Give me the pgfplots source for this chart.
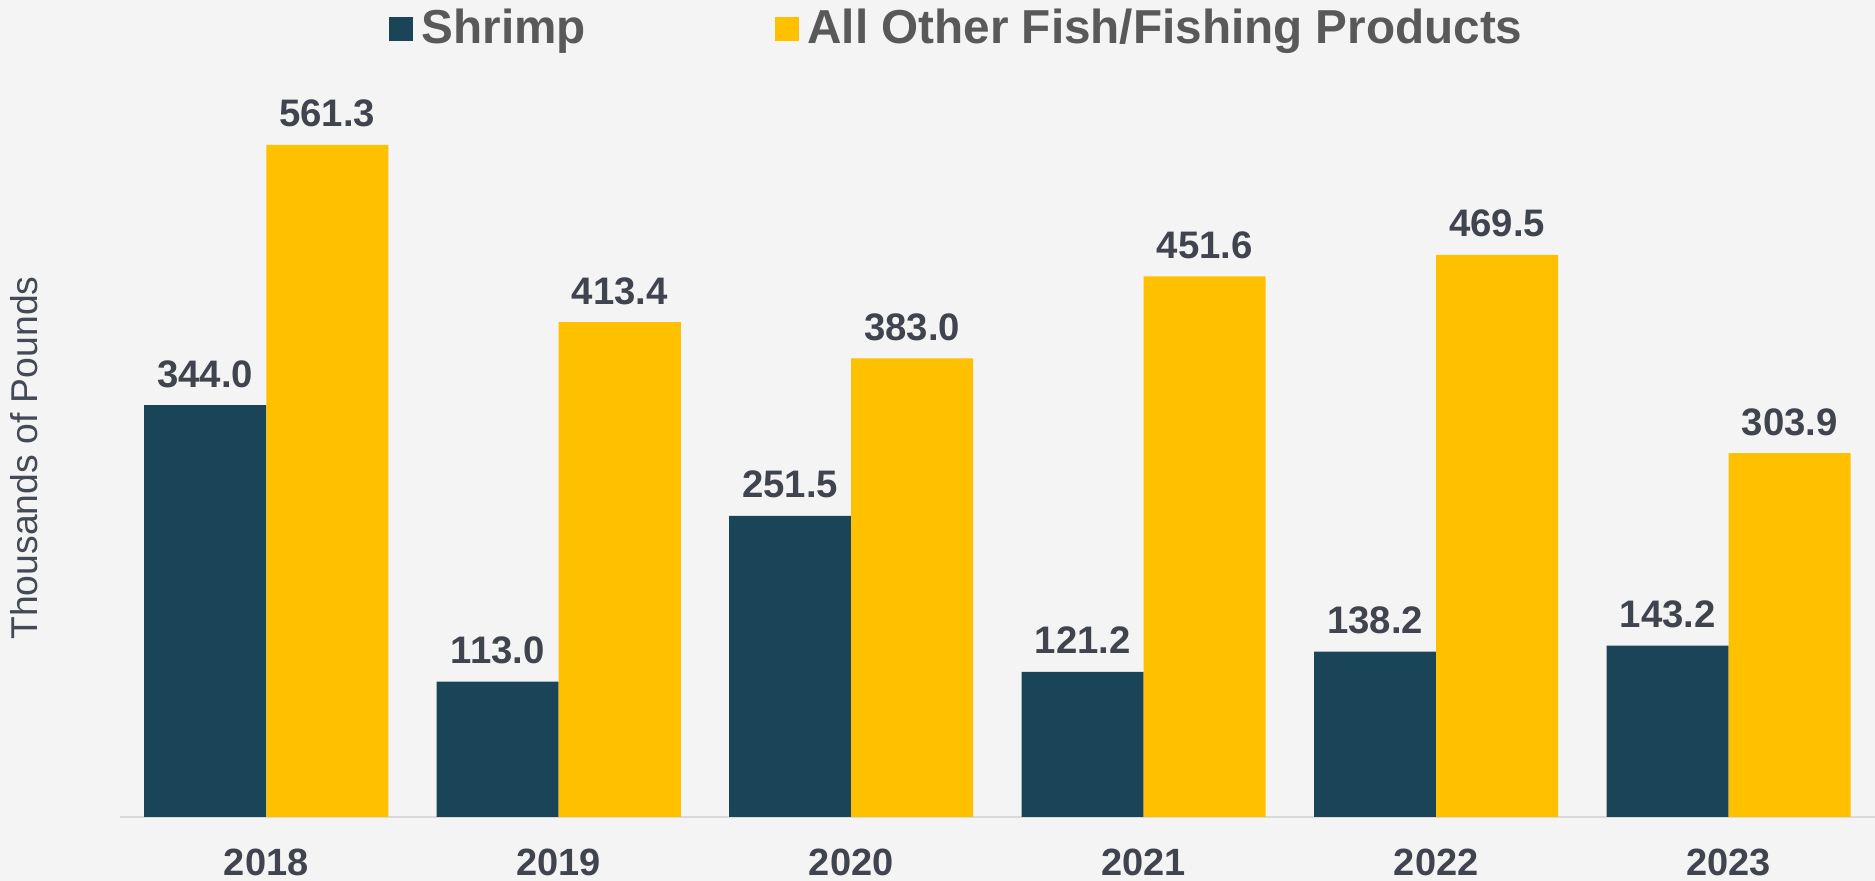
\documentclass[border=0pt]{standalone}
\usepackage{pgfplots}
\pgfplotsset{compat=1.18}
\usepackage{fontspec}
\setmainfont{Liberation Sans}
\definecolor{bgc}{HTML}{F4F4F4}
\definecolor{navy}{HTML}{1A4559}
\definecolor{gold}{HTML}{FFC000}
\definecolor{lbl}{HTML}{40444E}
\definecolor{leg}{HTML}{595959}
\definecolor{ylab}{HTML}{434A55}
\begin{document}
\begin{tikzpicture}
\fill[bgc] (0,0) rectangle (562.5pt,264.3pt);
\useasboundingbox (0,0) rectangle (562.5pt,264.3pt);
\node[rotate=90, text=ylab, font=\fontsize{11.2}{13}\selectfont] at (7.2pt,126.9pt) {Thousands of Pounds};
\begin{axis}[
  at={(36pt,19.2pt)}, anchor=south west,
  scale only axis, width=526.5pt, height=245.1pt,
  xmin=-0.5, xmax=5.5, ymin=0, ymax=682.4,
  ybar=0pt, bar width=36.6pt,
  axis x line=bottom, axis y line=none,
  x axis line style={-, draw=black!15, line width=0.6pt},
  xtick=data, xtick style={draw=none},
  xticklabels={2018,2019,2020,2021,2022,2023},
  xticklabel style={anchor=base, yshift=-15.4pt, inner sep=0pt, text=lbl, font=\bfseries\fontsize{11.4}{13}\selectfont},
  clip=false,
  nodes near coords,
  nodes near coords style={anchor=base, yshift=5.4pt, inner sep=0pt, text=lbl, font=\bfseries\fontsize{11.5}{13}\selectfont,
    /pgf/number format/.cd, fixed, fixed zerofill, precision=1, assume math mode=true},
  legend columns=2,
  legend style={at={(rel axis cs:0.153,0.965)}, anchor=west, draw=none, fill=none, inner sep=0pt,
    font=\bfseries\fontsize{14.3}{16}\selectfont, text=leg,
    nodes={inner xsep=2.6pt},
    /tikz/every even column/.append style={column sep=54pt}},
  legend image code/.code={\fill[#1] (0pt,-3.6pt) rectangle (7.2pt,3.6pt);},
]
\addplot[fill=navy, draw=none] coordinates {(0,344.0) (1,113.0) (2,251.5) (3,121.2) (4,138.2) (5,143.2)};
\addplot[fill=gold, draw=none] coordinates {(0,561.3) (1,413.4) (2,383.0) (3,451.6) (4,469.5) (5,303.9)};
\legend{Shrimp, All Other Fish/Fishing Products}
\end{axis}
\end{tikzpicture}
\end{document}
